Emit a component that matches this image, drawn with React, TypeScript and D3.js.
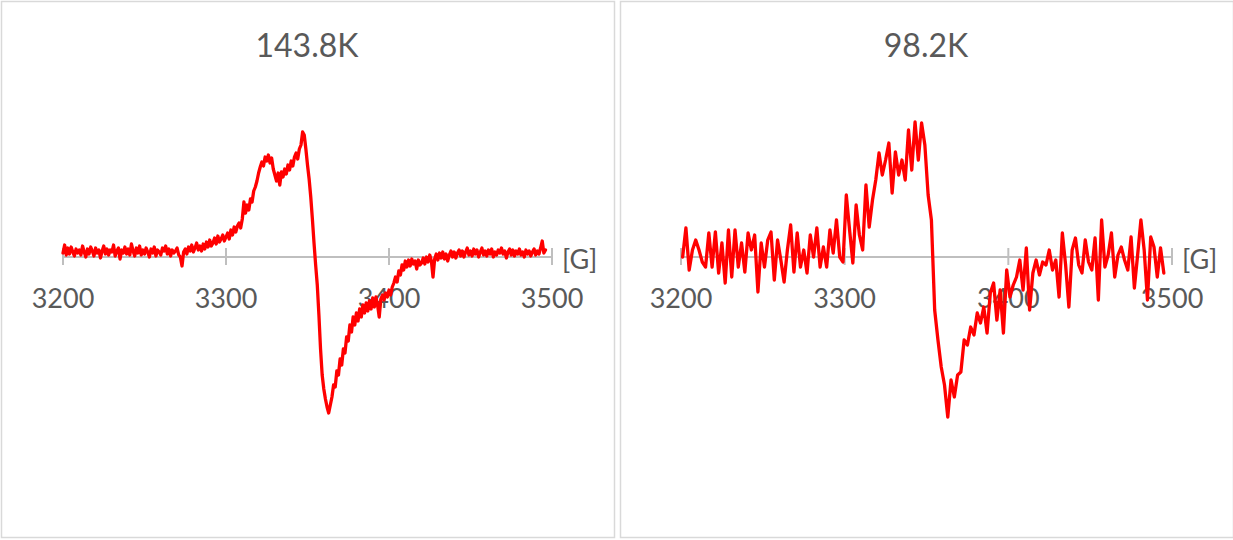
import React, { useEffect } from "react";
import * as d3 from "d3";

// Field axis ticks [G]
const fieldTicks: number[] = [3200, 3300, 3400, 3500];
const fieldDomain: number[] = [3200, 3500];

// Panel titles (temperature)
const panelTitles: string[] = ["143.8K", "98.2K"];

// 143.8K spectrum: sweep start / step in G, and signal (arb. units, 0 = axis)
const leftStartG = 3200;
const leftStepG = 1;
const leftSignal: number[] = [
  4, 12, 2, 9, 3, 10, 5, 1, 8, 4,
  7, 2, 11, 5, 0, 8, 3, 10, 6, 1,
  9, 4, 7, -1, 6, 11, 3, 8, 2, 7,
  5, 12, 1, 6, 9, -2, 7, 4, 10, 3,
  8, 2, 13, 6, 1, 9, 4, 11, 2, 7,
  3, 9, 5, 0, 8, 4, 10, 1, 7, 5,
  2, 9, 6, 11, 3, 8, 1, 7, 4, 6,
  9, 2, 0, -9, 5, 8, 3, 10, 6, 12,
  5, 9, 14, 7, 11, 6, 13, 8, 15, 10,
  17, 11, 14, 19, 13, 21, 15, 18, 22, 16,
  20, 24, 18, 27, 22, 30, 25, 31, 34, 29,
  38, 55, 44, 52, 47, 58, 55, 66, 70, 76,
  84, 90, 95, 91, 100, 96, 102, 94, 99, 88,
  82, 76, 84, 72, 85, 80, 88, 83, 92, 87,
  96, 91, 100, 104, 98, 108, 112, 125,
  122, 108, 92, 78, 60, 38, 14, -8, -28, -58, -92, -118, -132, -142, -150, -156, -148,
  -140, -128, -130, -114, -118, -102, -108, -92, -96, -80, -84, -68, -75, -60, -68, -56,
  -64, -52, -60, -48, -56, -46, -54, -44, -52, -41, -50, -40, -48, -60, -42,
  -38, -43, -36, -40, -33, -38, -30, -26, -20, -25, -14, -18, -8, -13, -4, -10, -3, -9, -2, -7, -4, -12, -3, -8,
  -6, -1, -7, 0, -5, 2, -4, -20, -2, 3,
  -3, 4, -1, 5, -2, 3, -4, 2, 6, 0,
  5, -1, 4, 7, 1, 6, 0, 5, 9, 2,
  6, 1, 8, 3, 7, 0, 5, 9, 2, 6,
  1, 7, 3, 8, 0, 5, 2, 7, 4, 9,
  3, 6, -1, 5, 8, 2, 7, 1, 6, 3,
  8, 2, 5, 0, 7, 3, 6, 1, 5, 8,
  2, 6, 3, 9, 16, 4, 7,
];

// 98.2K spectrum
const rightStartG = 3201;
const rightStepG = 2;
const rightSignal: number[] = [
  0, 29, -13, 7, 17, 7, -5, -10, 24, -10,
  25, -16, 14, -26, 27, -20, 27, -10, 14, -15,
  24, 7, 22, -35, 14, -10, 17, 25, -23, 17,
  -3, -25, 7, 32, -15, 24, -10, 7, -16, 22,
  0, 29, -10, 10, -10, 27, 4, 37, 0, -5,
  62, 27, -6, 52, 22, 7, 72, 30, 57, 77,
  104, 82, 97, 114, 64, 105, 82, 97, 77, 127,
  87, 135, 97, 134, 112, 62, 37, -53, -83, -110,
  -128, -160, -123, -140, -118, -115, -83, -88, -70, -78,
  -56, -66, -50, -76, -36, -26, -63, -33, -76, -13,
  -40, -28, -20, -3, -33, 9, -53, -16, -3, -18,
  -5, -8, 7, -13, -3, -40, 24, -8, -50, 7,
  19, -8, -16, 17, -5, -13, 19, -43, 37, -10,
  2, 24, -20, 2, 10, -3, -13, 20, -31, 2,
  37, 7, -43, 20, 10, -20, 9, -16,
];

const W = 1233;
const H = 540;
const FONT = "Lato, 'Open Sans', 'Liberation Sans', sans-serif";
const TEXT = "#595959";
const AXIS = "#bfbfbf";
const BORDER = "#d9d9d9";

type PanelProps = {
  x0: number;
  x1: number;
  titleX: number;
  plotLeft: number;
  plotRight: number;
  title: string;
  startG: number;
  stepG: number;
  values: number[];
};

function Panel(p: PanelProps) {
  const x = d3.scaleLinear().domain(fieldDomain).range([p.plotLeft, p.plotRight]);
  const y = d3.scaleLinear().domain([-200, 200]).range([457, 57]);
  const pts: [number, number][] = p.values.map((v, i) => [p.startG + i * p.stepG, v]);
  const line = d3
    .line<[number, number]>()
    .x((d) => x(d[0]))
    .y((d) => y(d[1]));
  const y0 = y(0);
  return (
    <g>
      <rect
        x={p.x0 + 0.5}
        y={1.5}
        width={p.x1 - p.x0 - 1}
        height={H - 4}
        fill="#ffffff"
        stroke={BORDER}
        strokeWidth={1.5}
      />
      <text
        x={p.titleX}
        y={57}
        textAnchor="middle"
        fontFamily={FONT}
        fontSize={32}
        fill={TEXT}
      >
        {p.title}
      </text>
      <line
        x1={x(fieldDomain[0])}
        x2={x(fieldDomain[1])}
        y1={y0}
        y2={y0}
        stroke={AXIS}
        strokeWidth={2}
      />
      {fieldTicks.map((t) => (
        <g key={t}>
          <line x1={x(t)} x2={x(t)} y1={y0 - 9} y2={y0 + 8} stroke={AXIS} strokeWidth={2} />
          <text
            x={x(t)}
            y={308}
            textAnchor="middle"
            fontFamily={FONT}
            fontSize={27}
            fill={TEXT}
          >
            {t}
          </text>
        </g>
      ))}
      <path
        d={line(pts) || ""}
        fill="none"
        stroke="#ff0000"
        strokeWidth={3.3}
        strokeLinejoin="round"
        strokeLinecap="round"
      />
      <text
        x={x(fieldDomain[1]) + 10}
        y={269}
        fontFamily={FONT}
        fontSize={27}
        fill={TEXT}
      >
        [G]
      </text>
    </g>
  );
}

export default function App() {
  useEffect(() => {
    document.body.style.margin = "0";
  }, []);
  return (
    <svg
      width={W}
      height={H}
      style={{ position: "absolute", left: 0, top: 0, background: "#ffffff" }}
    >
      <Panel
        x0={1}
        x1={615}
        titleX={307}
        plotLeft={63}
        plotRight={552}
        title={panelTitles[0]}
        startG={leftStartG}
        stepG={leftStepG}
        values={leftSignal}
      />
      <Panel
        x0={620}
        x1={1234}
        titleX={926}
        plotLeft={681}
        plotRight={1172}
        title={panelTitles[1]}
        startG={rightStartG}
        stepG={rightStepG}
        values={rightSignal}
      />
    </svg>
  );
}
